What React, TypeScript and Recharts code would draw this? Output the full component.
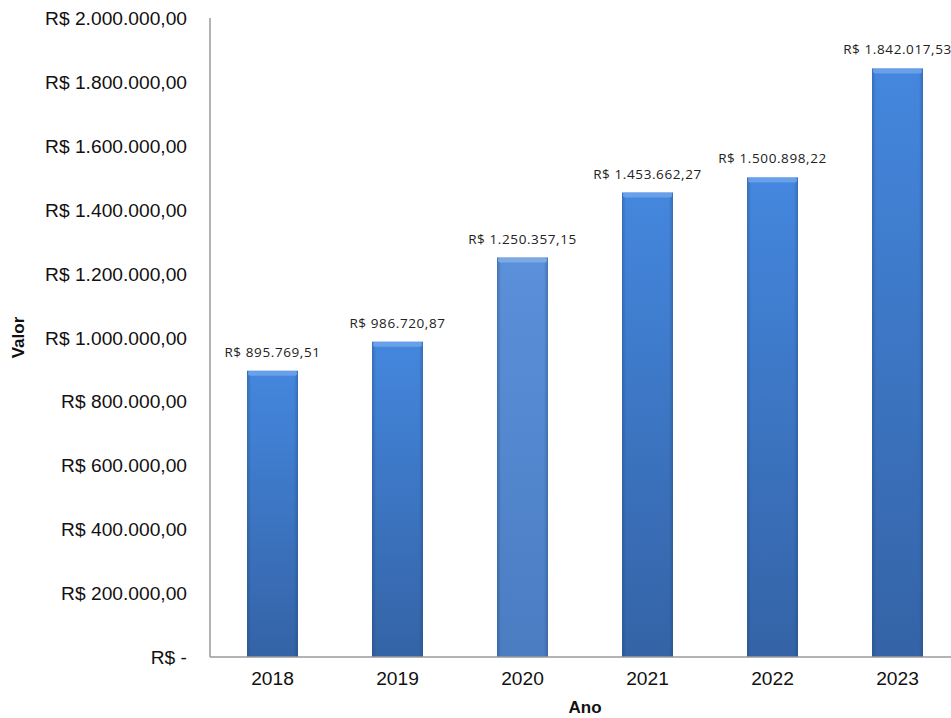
import { Bar, BarChart, Cell, LabelList, XAxis, YAxis } from "recharts";

const years = ["2018", "2019", "2020", "2021", "2022", "2023"];
const values = [895769.51, 986720.87, 1250357.15, 1453662.27, 1500898.22, 1842017.53];
const yTicks = [0, 200000, 400000, 600000, 800000, 1000000, 1200000, 1400000, 1600000, 1800000, 2000000];
// the 2020 bar is drawn a lighter blue in the original
const lighter = [false, false, true, false, false, false];

const data = years.map((ano, i) => ({ ano, valor: values[i] }));

function brl(v: number) {
  const [int, dec] = v.toFixed(2).split(".");
  return int.replace(/\B(?=(\d{3})+(?!\d))/g, ".") + "," + dec;
}

const axisFont = "'Liberation Sans', Arial, sans-serif";
const labelFont = "'Open Sans', 'Noto Sans', sans-serif";

function BevelBar(props: any) {
  const { x, y, width, height, index } = props;
  if (!height || height <= 0) return null;
  const light = lighter[index];
  const body = light ? "url(#barLight)" : "url(#barMain)";
  const cap = light ? "#86aee4" : "#6ea4ec";
  return (
    <g>
      <rect x={x} y={y} width={width} height={height} fill={body} />
      <rect x={x} y={y} width={width} height={height} fill="url(#barEdge)" />
      <rect x={x + 1} y={y} width={width - 2} height={5} rx={2} fill={cap} opacity={0.85} />
    </g>
  );
}

function YTick(props: any) {
  const { y, payload } = props;
  const v = payload.value as number;
  return (
    <text x={187} y={y} dy={7} textAnchor="end" fill="#111" fontSize={19.2} fontFamily={axisFont}>
      {v === 0 ? "R$ -" : "R$ " + brl(v)}
    </text>
  );
}

function XTick(props: any) {
  const { x, y, payload } = props;
  return (
    <text x={x} y={y} dy={20} textAnchor="middle" fill="#111" fontSize={19.2} fontFamily={axisFont}>
      {payload.value}
    </text>
  );
}

function ValueLabel(props: any) {
  const { x, y, width, value } = props;
  return (
    <text
      x={x + width / 2}
      y={y - 14}
      textAnchor="middle"
      fill="#222"
      fontSize={13.5}
      letterSpacing={0.6}
      fontFamily={labelFont}
    >
      {"R$ " + brl(value)}
    </text>
  );
}

function ValorTitle(props: any) {
  const { viewBox } = props;
  const cx = 24;
  const cy = viewBox.y + viewBox.height / 2;
  return (
    <text
      x={cx}
      y={cy}
      transform={`rotate(-90 ${cx} ${cy})`}
      textAnchor="middle"
      fill="#111"
      fontSize={17}
      fontWeight={700}
      fontFamily={axisFont}
    >
      Valor
    </text>
  );
}

export default function App() {
  return (
    <div style={{ position: "absolute", left: 0, top: 0, width: 951, height: 718, overflow: "hidden", background: "#fff" }}>
      <BarChart
        width={970}
        height={718}
        data={data}
        margin={{ top: 18, right: 10, bottom: 0, left: 0 }}
      >
        <defs>
          <linearGradient id="barMain" x1="0" y1="0" x2="0" y2="1">
            <stop offset="0%" stopColor="#4487de" />
            <stop offset="100%" stopColor="#3463a6" />
          </linearGradient>
          <linearGradient id="barLight" x1="0" y1="0" x2="0" y2="1">
            <stop offset="0%" stopColor="#5b90da" />
            <stop offset="100%" stopColor="#4a7dc2" />
          </linearGradient>
          <linearGradient id="barEdge" x1="0" y1="0" x2="1" y2="0">
            <stop offset="0%" stopColor="#1d3f70" stopOpacity={0.35} />
            <stop offset="8%" stopColor="#1d3f70" stopOpacity={0} />
            <stop offset="92%" stopColor="#1d3f70" stopOpacity={0} />
            <stop offset="100%" stopColor="#1d3f70" stopOpacity={0.35} />
          </linearGradient>
        </defs>
        <XAxis
          dataKey="ano"
          height={61}
          tickLine={false}
          axisLine={{ stroke: "#9a9a9a", strokeWidth: 1.5 }}
          tick={<XTick />}
          label={{
            value: "Ano",
            position: "insideBottom",
            offset: 5,
            fill: "#111",
            fontSize: 17,
            fontWeight: 700,
            fontFamily: axisFont,
          }}
        />
        <YAxis
          width={210}
          domain={[0, 2000000]}
          ticks={yTicks}
          interval={0}
          tickLine={false}
          axisLine={{ stroke: "#9a9a9a", strokeWidth: 1.5 }}
          tick={<YTick />}
          label={<ValorTitle />}
        />
        <Bar dataKey="valor" barSize={51} shape={<BevelBar />} isAnimationActive={false}>
          {data.map((d) => (
            <Cell key={d.ano} />
          ))}
          <LabelList dataKey="valor" content={<ValueLabel />} />
        </Bar>
      </BarChart>
    </div>
  );
}
